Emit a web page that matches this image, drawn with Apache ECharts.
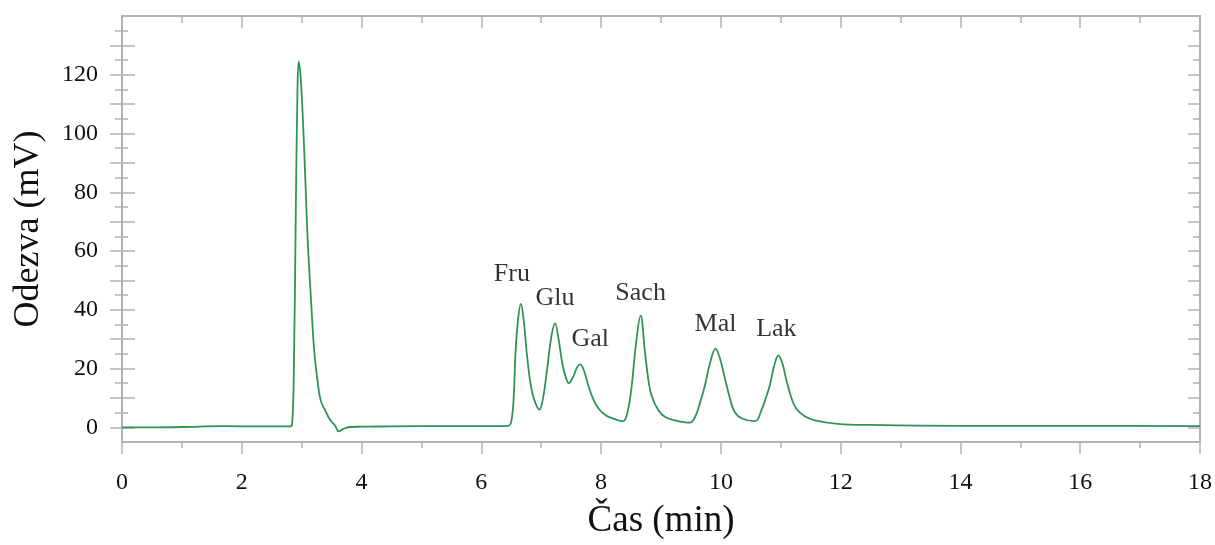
<!DOCTYPE html>
<html>
<head>
<meta charset="utf-8">
<title>chromatogram</title>
<script src="https://cdn.jsdelivr.net/npm/echarts@6/dist/echarts.min.js"></script>
<style>
  html, body { margin: 0; padding: 0; background: #fff; }
  #main { width: 1215px; height: 545px; }
</style>
</head>
<body>
<div id="main"></div>
<script>
// retention time (min) and detector response (mV)
const times = [
  0, 0.5, 1.0, 1.7, 2.3, 2.8, 2.84, 2.87, 2.90, 2.93, 2.95, 2.98, 3.02, 3.06, 3.10,
  3.16, 3.21, 3.27, 3.32, 3.40, 3.46, 3.52, 3.56, 3.62, 3.69, 3.80, 4.0, 5.0, 6.0,
  6.45, 6.50, 6.54, 6.57, 6.61, 6.66, 6.71, 6.76, 6.82, 6.88, 6.97, 7.03, 7.10, 7.17,
  7.23, 7.29, 7.35, 7.41, 7.46, 7.54, 7.60, 7.65, 7.71, 7.79, 7.87, 7.96, 8.07, 8.18,
  8.30, 8.37, 8.44, 8.51, 8.58, 8.66, 8.73, 8.79, 8.84, 8.95, 9.07, 9.25, 9.48, 9.58,
  9.66, 9.73, 9.82, 9.91, 9.99, 10.07, 10.15, 10.23, 10.35, 10.57, 10.68, 10.75, 10.82,
  10.89, 10.96, 11.03, 11.09, 11.17, 11.26, 11.40, 11.57, 11.95, 12.5, 14, 16, 18
];
const response = [
  0.0, 0.0, 0.1, 0.4, 0.3, 0.3, 1.0, 20, 70, 115, 124.5, 120, 105, 85, 64,
  42, 26, 15, 9, 5.5, 3, 1.5, 0.5, -1.4, -0.6, 0.1, 0.2, 0.4, 0.4,
  0.5, 2, 10, 25, 36, 42, 36, 25, 15, 9.6, 6, 10, 20, 31,
  35.4, 30, 22, 17, 15, 17.5, 20.5, 21.4, 19.5, 14, 9.5, 6.3, 4.2, 3.1,
  2.3, 2.1, 5, 14, 28, 38, 26, 16, 11, 6, 3.5, 2.3, 1.6, 4,
  9, 14, 22, 26.8, 23, 16.4, 10, 5.2, 3, 2.1, 6, 10, 14.5,
  21, 24.5, 21.5, 16.4, 10.5, 6.3, 3.8, 2.4, 1.2, 0.8, 0.5, 0.5, 0.4
];

// peak names and apex positions
const peakNames = ['Fru', 'Glu', 'Gal', 'Sach', 'Mal', 'Lak'];
const peakTimes = [6.66, 7.23, 7.65, 8.66, 9.91, 10.96];
const peakHeights = [41.9, 35.4, 21.4, 38, 26.8, 24.5];

// axis ticks
const yLabelValues = [0, 20, 40, 60, 80, 100, 120];
const yMajorTicks = [0, 10, 20, 30, 40, 50, 60, 70, 80, 90, 100, 110, 120, 130];
const yMinorTicks = [5, 15, 25, 35, 45, 55, 65, 75, 85, 95, 105, 115, 125, 135];

const labelOffsets = [[-9, -30], [0, -25], [10, -25], [0, -22], [0, -24], [-2, -26]];

const FONT = 'Liberation Serif';
const AXIS_COLOR = '#b3b3b3';
const LINE_COLOR = '#2f9455';

const hidden = { show: false };
const baseY = { type: 'value', min: -5, max: 140, splitLine: hidden };
const border = { show: true, onZero: false, lineStyle: { color: AXIS_COLOR, width: 2 } };

function tickAxis(position, offset, values, length, inside) {
  return Object.assign({}, baseY, {
    position: position,
    offset: offset,
    axisLine: { show: false, onZero: false },
    axisLabel: hidden,
    axisTick: { show: true, inside: inside, length: length, customValues: values,
                lineStyle: { color: AXIS_COLOR, width: 1.5 } }
  });
}

const chart = echarts.init(document.getElementById('main'));
chart.setOption({
  animation: false,
  grid: { left: 122, right: 11, top: 16, bottom: 99 },
  xAxis: [
    {
      type: 'value', min: 0, max: 18, interval: 2, position: 'bottom',
      name: 'Čas (min)', nameLocation: 'middle', nameGap: 61,
      nameTextStyle: { fontFamily: FONT, fontSize: 37, color: '#111' },
      axisLine: border,
      axisTick: { length: 12, lineStyle: { color: AXIS_COLOR, width: 1.5 } },
      minorTick: { show: true, splitNumber: 2, length: 6, lineStyle: { color: AXIS_COLOR, width: 1.5 } },
      axisLabel: { fontFamily: FONT, fontSize: 24, color: '#111', margin: 29 },
      splitLine: hidden, minorSplitLine: hidden
    },
    {
      type: 'value', min: 0, max: 18, interval: 2, position: 'top',
      axisLine: border,
      axisTick: { inside: true, length: 12, lineStyle: { color: AXIS_COLOR, width: 1.5 } },
      minorTick: { show: true, splitNumber: 2, length: 7, lineStyle: { color: AXIS_COLOR, width: 1.5 } },
      axisLabel: hidden, splitLine: hidden, minorSplitLine: hidden
    }
  ],
  yAxis: [
    Object.assign({}, baseY, {
      position: 'left',
      name: 'Odezva (mV)', nameLocation: 'middle', nameGap: 75,
      nameTextStyle: { fontFamily: FONT, fontSize: 36, color: '#111' },
      axisLine: border,
      axisTick: hidden,
      axisLabel: { fontFamily: FONT, fontSize: 24, color: '#111', margin: 24,
                   customValues: yLabelValues }
    }),
    tickAxis('left', -13, yMajorTicks, 25, false),
    tickAxis('left', -6, yMinorTicks, 13, false),
    Object.assign(tickAxis('right', 0, yMajorTicks, 12, true), { axisLine: border }),
    tickAxis('right', 0, yMinorTicks, 7, true)
  ],
  series: [
    {
      type: 'line',
      data: times.map((t, i) => [t, response[i]]),
      showSymbol: false,
      smooth: 0.4,
      lineStyle: { color: LINE_COLOR, width: 1.8 },
      z: 3
    },
    {
      type: 'scatter',
      data: peakNames.map((n, i) => ({
        name: n,
        value: [peakTimes[i], peakHeights[i]],
        label: { offset: labelOffsets[i] }
      })),
      symbolSize: 1,
      itemStyle: { color: 'transparent' },
      label: {
        show: true, position: 'inside', formatter: '{b}',
        fontFamily: FONT, fontSize: 26, color: '#000', textBorderWidth: 0
      },
      silent: true,
      z: 4
    }
  ]
});
</script>
</body>
</html>
